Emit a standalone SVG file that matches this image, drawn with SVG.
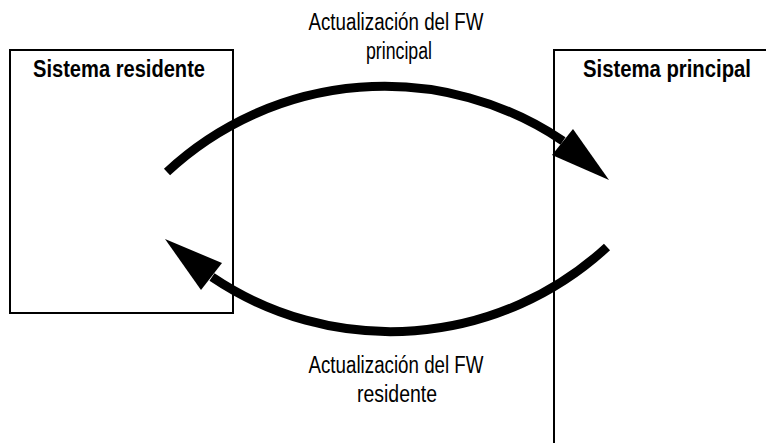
<svg xmlns="http://www.w3.org/2000/svg" width="766" height="445" viewBox="0 0 766 445">
<style>
.box{fill:none;stroke:#000;stroke-width:2}
.title{font-family:"Liberation Sans",Arial,sans-serif;font-weight:bold;font-size:23px;fill:#000}
.lbl{font-family:"Liberation Sans",Arial,sans-serif;font-size:23px;fill:#000;text-anchor:middle}
.arc{fill:none;stroke:#000;stroke-width:9;stroke-linecap:butt}
.head{fill:#000}
</style>
<rect width="766" height="445" fill="#fff"/>
<g id="sistema-residente">
<rect class="box" x="10" y="50" width="223" height="263"/>
<text class="title" x="33" y="77" textLength="172" lengthAdjust="spacingAndGlyphs">Sistema residente</text>
</g>
<g id="sistema-principal">
<path class="box" d="M766,50 H554 V443"/>
<text class="title" x="583" y="77" textLength="168" lengthAdjust="spacingAndGlyphs">Sistema principal</text>
</g>
<g id="connectors">
<g id="upd-principal">
<path class="arc" d="M167,172 A319,319 0 0 1 563,141"/>
<polygon class="head" points="609,180 573,129 552,155"/>
<text class="lbl" x="396" y="30" textLength="175" lengthAdjust="spacingAndGlyphs">Actualización del FW</text>
<text class="lbl" x="399" y="59" textLength="66" lengthAdjust="spacingAndGlyphs">principal</text>
</g>
<g id="upd-residente">
<path class="arc" d="M607,247 A319,319 0 0 1 212,277"/>
<polygon class="head" points="165,239 201,290 222,263"/>
<text class="lbl" x="396" y="373" textLength="175" lengthAdjust="spacingAndGlyphs">Actualización del FW</text>
<text class="lbl" x="397" y="402" textLength="80" lengthAdjust="spacingAndGlyphs">residente</text>
</g>
</g>
</svg>
